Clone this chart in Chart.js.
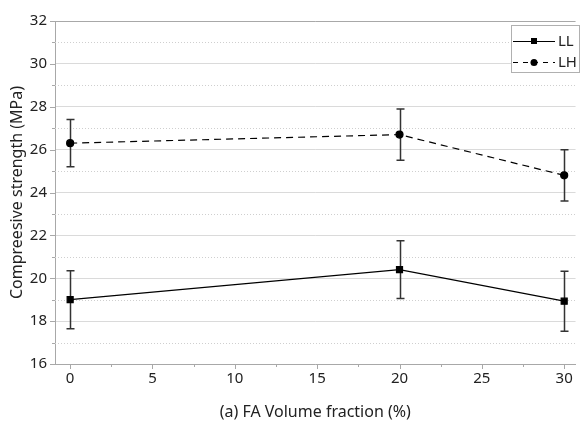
<!DOCTYPE html>
<html>
<head>
<meta charset="utf-8">
<script src="https://cdn.jsdelivr.net/npm/chart.js@4.4.1/dist/chart.umd.min.js"></script>
<style>
  html, body { margin: 0; padding: 0; background: #fff; overflow: hidden; }
  #wrap { width: 581px; height: 426px; }
</style>
</head>
<body>
<div id="wrap"><canvas id="chart" width="581" height="426"></canvas></div>
<script>
// FA volume fraction (%)
const faFraction = [0, 20, 30];
// compressive strength (MPa), mean and error
const llMean = [19.0, 20.4, 18.93];
const llErr = [1.35, 1.35, 1.4];
const lhMean = [26.3, 26.7, 24.8];
const lhErr = [1.1, 1.2, 1.2];
const seriesNames = ['LL', 'LH'];

const axisGray = '#a8a8a8';
const font = 'Noto Sans';

const toPoints = (ys) => faFraction.map((x, i) => ({ x: x, y: ys[i] }));

// error bars, minor grid, tick marks, legend
const extras = {
    id: 'extras',
    beforeDatasetsDraw(chart) {
        const { ctx, chartArea: a, scales: { x, y } } = chart;
        ctx.save();
        ctx.strokeStyle = '#cfcfcf';
        ctx.lineWidth = 1;
        ctx.setLineDash([1, 2]);
        for (let v = 17; v < 32; v += 2) {
            const py = Math.round(y.getPixelForValue(v)) + 0.5;
            ctx.beginPath();
            ctx.moveTo(a.left, py);
            ctx.lineTo(a.right, py);
            ctx.stroke();
        }
        ctx.setLineDash([]);
        ctx.strokeStyle = axisGray;
        for (let v = 16; v <= 32; v += 1) {
            const py = Math.round(y.getPixelForValue(v)) + 0.5;
            const len = v % 2 === 0 ? 5 : 3;
            ctx.beginPath();
            ctx.moveTo(a.left - len, py);
            ctx.lineTo(a.left, py);
            ctx.stroke();
        }
        for (let v = 0; v <= 30; v += 2.5) {
            const px = Math.round(x.getPixelForValue(v)) + 0.5;
            const len = v % 5 === 0 ? 5 : 3;
            ctx.beginPath();
            ctx.moveTo(px, a.bottom);
            ctx.lineTo(px, a.bottom + len);
            ctx.stroke();
        }
        // error bars
        ctx.strokeStyle = '#333';
        ctx.lineWidth = 1.5;
        [[llMean, llErr], [lhMean, lhErr]].forEach(([m, e]) => {
            faFraction.forEach((fx, i) => {
                const px = Math.round(x.getPixelForValue(fx)) + 0.5;
                const top = y.getPixelForValue(m[i] + e[i]);
                const bot = y.getPixelForValue(m[i] - e[i]);
                ctx.beginPath();
                ctx.moveTo(px, top); ctx.lineTo(px, bot);
                ctx.moveTo(px - 4, top); ctx.lineTo(px + 4, top);
                ctx.moveTo(px - 4, bot); ctx.lineTo(px + 4, bot);
                ctx.stroke();
            });
        });
        ctx.restore();
    },
    afterDraw(chart) {
        const { ctx } = chart;
        const bx = 511, by = 25, bw = 68, bh = 47;
        ctx.save();
        ctx.fillStyle = '#fff';
        ctx.fillRect(bx, by, bw, bh);
        ctx.strokeStyle = '#b0b0b0';
        ctx.lineWidth = 1;
        ctx.strokeRect(bx + 0.5, by + 0.5, bw, bh);
        const rows = [by + 16, by + 37];
        ctx.strokeStyle = '#000';
        ctx.fillStyle = '#000';
        rows.forEach((ry, i) => {
            ctx.lineWidth = 1.2;
            ctx.setLineDash(i === 1 ? [5, 5] : []);
            ctx.beginPath();
            ctx.moveTo(513, ry + 0.5);
            ctx.lineTo(555, ry + 0.5);
            ctx.stroke();
            ctx.setLineDash([]);
            if (i === 0) {
                ctx.fillRect(531, ry - 3, 6, 6);
            } else {
                ctx.beginPath();
                ctx.arc(534, ry + 0.5, 3.5, 0, Math.PI * 2);
                ctx.fill();
            }
            ctx.font = '15px "' + font + '"';
            ctx.textBaseline = 'middle';
            ctx.fillStyle = '#222';
            ctx.fillText(seriesNames[i], 558, ry + 1);
            ctx.fillStyle = '#000';
        });
        ctx.restore();
    }
};

new Chart(document.getElementById('chart'), {
    type: 'scatter',
    data: {
        datasets: [
            {
                label: seriesNames[0],
                data: toPoints(llMean),
                showLine: true,
                borderColor: '#000',
                backgroundColor: '#000',
                borderWidth: 1.2,
                pointStyle: 'rect',
                pointRadius: 4.25,
                pointHoverRadius: 4.25
            },
            {
                label: seriesNames[1],
                data: toPoints(lhMean),
                showLine: true,
                borderColor: '#000',
                backgroundColor: '#000',
                borderWidth: 1.2,
                borderDash: [7, 5],
                pointStyle: 'circle',
                pointRadius: 3.5,
                pointHoverRadius: 3.5
            }
        ]
    },
    options: {
        responsive: false,
        animation: false,
        layout: { padding: { left: 0, right: 0, top: 21, bottom: 0 } },
        plugins: { legend: { display: false }, tooltip: { enabled: false } },
        scales: {
            x: {
                type: 'linear',
                min: -0.92,
                max: 30.69,
                afterBuildTicks: (s) => {
                    s.ticks = [0, 5, 10, 15, 20, 25, 30].map(v => ({ value: v }));
                },
                afterFit: (s) => { s.height = 62; },
                grid: { display: false, drawTicks: false },
                border: { color: axisGray, width: 1 },
                ticks: {
                    padding: 6,
                    color: '#222',
                    font: { family: font, size: 15 },
                    maxRotation: 0
                },
                title: {
                    display: true,
                    text: '(a) FA Volume fraction (%)',
                    color: '#222',
                    font: { family: font, size: 16 },
                    padding: { top: 16 }
                }
            },
            y: {
                min: 16,
                max: 32,
                afterBuildTicks: (s) => {
                    s.ticks = [16, 18, 20, 22, 24, 26, 28, 30, 32].map(v => ({ value: v }));
                },
                afterFit: (s) => { s.width = 55; },
                grid: {
                    drawTicks: false,
                    color: (c) => c.tick && c.tick.value === 32 ? axisGray : '#dadada',
                    lineWidth: 1
                },
                border: { color: axisGray, width: 1 },
                ticks: {
                    padding: 8,
                    color: '#222',
                    font: { family: font, size: 15 }
                },
                title: {
                    display: true,
                    text: 'Compreesive strength (MPa)',
                    color: '#222',
                    font: { family: font, size: 16 },
                    padding: { top: 8, bottom: 0 }
                }
            }
        }
    },
    plugins: [extras]
});
</script>
</body>
</html>
